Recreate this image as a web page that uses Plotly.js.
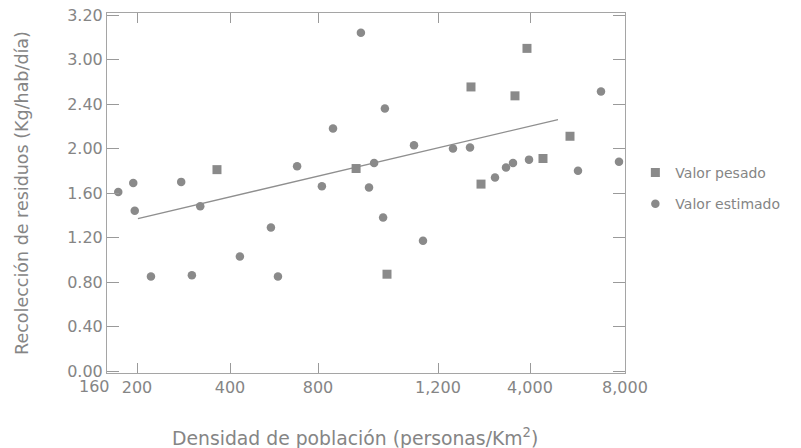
<!DOCTYPE html>
<html>
<head>
<meta charset="utf-8">
<script src="https://cdn.plot.ly/plotly-3.0.1.min.js"></script>
<style>html,body{margin:0;padding:0;background:#fff;}#chart{width:801px;height:448px;}</style>
</head>
<body>
<div id="chart"></div>
<script>
// X axis ticks (density, persons/km2) and their relative positions on the printed axis
const xTickVals = [160, 200, 400, 800, 1200, 4000, 8000];
const xTickText = ["160", "200", "400", "800", "1,200", "4,000", "8,000"];
const xTickPos  = [0, 30, 123, 211, 331, 423, 518];

// Y axis ticks (kg/hab/día), equally spaced on the printed axis
const yTickVals = [0.0, 0.4, 0.8, 1.2, 1.6, 2.0, 2.4, 3.0, 3.2];
const yTickText = ["0.00", "0.40", "0.80", "1.20", "1.60", "2.00", "2.40", "3.00", "3.20"];

// Valor pesado (squares)
const pesadoX = [372, 927, 1030, 2204, 2509, 3543, 3908, 4547, 5684];
const pesadoY = [1.81, 1.82, 0.87, 2.63, 1.68, 2.51, 3.05, 1.91, 2.11];

// Valor estimado (circles)
const estimadoX = [175, 195, 197, 230, 295, 318, 336, 445, 586, 618, 705, 813, 850, 943, 970, 987, 1017, 1023, 1120, 1150, 1656, 2174, 2935, 3270, 3482, 3970, 6021, 6989, 7747];
const estimadoY = [1.61, 1.69, 1.44, 0.85, 1.70, 0.86, 1.48, 1.03, 1.29, 0.85, 1.84, 1.66, 2.18, 3.12, 1.65, 1.87, 1.38, 2.36, 2.03, 1.17, 2.00, 2.01, 1.74, 1.83, 1.87, 1.90, 1.80, 2.57, 1.88];

// Trend line endpoints
const trendX = [202, 5179];
const trendY = [1.37, 2.26];

const xTitle = 'Densidad de población (personas/Km<sup>2</sup>)';
const yTitle = 'Recolección de residuos (Kg/hab/día)';

function interp(v, vals, pos) {
  if (v <= vals[0]) return pos[0];
  for (let i = 1; i < vals.length; i++) {
    if (v <= vals[i]) {
      const t = (v - vals[i-1]) / (vals[i] - vals[i-1]);
      return pos[i-1] + t * (pos[i] - pos[i-1]);
    }
  }
  return pos[pos.length - 1];
}
const yTickPos = yTickVals.map((_, i) => i);
const mx = a => a.map(v => interp(v, xTickVals, xTickPos));
const my = a => a.map(v => interp(v, yTickVals, yTickPos));

const grey = '#8a8a8a';
const txt = '#858585';
const font = 'DejaVu Sans, Arial, sans-serif';

// first tick label is printed offset to the left of the axis corner
const shownTickText = xTickText.map((t, i) => i === 0 ? '' : t);

const data = [
  {x: mx(trendX), y: my(trendY), mode: 'lines', type: 'scatter', showlegend: false,
   line: {color: '#8f8f8f', width: 1.3}, hoverinfo: 'skip'},
  {x: mx(pesadoX), y: my(pesadoY), mode: 'markers', type: 'scatter',
   name: 'Valor pesado', legendgroup: 'a',
   marker: {symbol: 'square', size: 9, color: grey}},
  {x: mx(estimadoX), y: my(estimadoY), mode: 'markers', type: 'scatter',
   name: 'Valor estimado', legendgroup: 'b',
   marker: {symbol: 'circle', size: 8.5, color: grey}}
];

const layout = {
  width: 801, height: 448,
  margin: {l: 107, r: 176, t: 13, b: 75},
  paper_bgcolor: '#ffffff', plot_bgcolor: '#ffffff',
  font: {family: font, color: txt, size: 16},
  xaxis: {
    range: [0, 518], tickmode: 'array', tickvals: xTickPos, ticktext: shownTickText,
    tickangle: 0,
    ticks: 'inside', ticklen: 10, tickcolor: '#9a9a9a', mirror: 'ticks',
    showline: true, linecolor: '#a5a5a5', linewidth: 1, showgrid: false, zeroline: false,
    tickfont: {size: 16, color: txt}
  },
  yaxis: {
    range: [-0.045, 8.045], tickmode: 'array', tickvals: yTickPos, ticktext: yTickText,
    ticks: 'inside', ticklen: 12, tickcolor: '#9a9a9a', mirror: 'ticks',
    showline: true, linecolor: '#a5a5a5', linewidth: 1, showgrid: false, zeroline: false,
    tickfont: {size: 16, color: txt},
    title: {text: yTitle, font: {size: 17.5, color: txt}, standoff: 34}
  },
  annotations: [
    {text: xTickText[0], x: xTickPos[0], xref: 'x', y: 0, yref: 'paper',
     xanchor: 'center', yanchor: 'middle', xshift: -13, yshift: -13, borderpad: 0,
     showarrow: false, font: {size: 16, color: txt}},
    {text: xTitle, x: (355 - 107) / 518, xref: 'paper', y: 0, yref: 'paper',
     xanchor: 'center', yanchor: 'middle', yshift: -64, borderpad: 0,
     showarrow: false, font: {size: 18.8, color: txt}}
  ],
  legend: {x: 1.02, y: 0.6, xanchor: 'left', yanchor: 'top', bgcolor: 'rgba(0,0,0,0)',
           font: {size: 14, color: txt}, tracegroupgap: 10, itemwidth: 30},
  showlegend: true
};

Plotly.newPlot('chart', data, layout, {displayModeBar: false, staticPlot: true});
</script>
</body>
</html>
